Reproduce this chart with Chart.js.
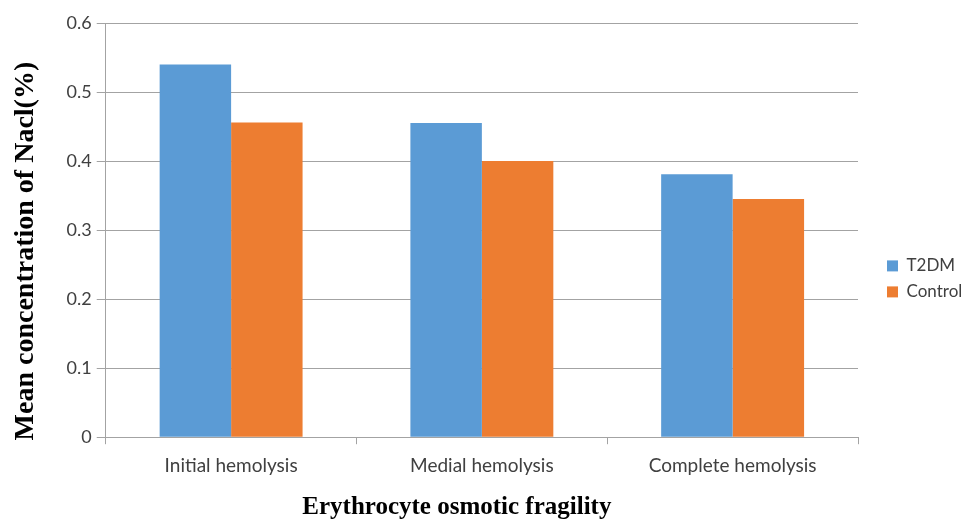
<!DOCTYPE html>
<html>
<head>
<meta charset="utf-8">
<script src="https://cdn.jsdelivr.net/npm/chart.js@4/dist/chart.umd.min.js"></script>
<style>
html,body{margin:0;padding:0;background:#fff;}
#wrap{width:968px;height:523px;}
</style>
</head>
<body>
<div id="wrap"><canvas id="c" width="968" height="523"></canvas></div>
<script>
const categories = ['Initial hemolysis', 'Medial hemolysis', 'Complete hemolysis'];
const t2dm = [0.54, 0.455, 0.381];
const control = [0.456, 0.40, 0.345];
const yTickLabels = ['0', '0.1', '0.2', '0.3', '0.4', '0.5', '0.6'];
const seriesNames = ['T2DM', 'Control'];
const xTitle = 'Erythrocyte osmotic fragility';
const yTitle = 'Mean concentration of Nacl(%)';

const gridColor = '#a3a3a3';
const textColor = '#404040';
const serif = '"Liberation Serif", "Times New Roman", serif';

new Chart(document.getElementById('c'), {
  type: 'bar',
  data: {
    labels: categories,
    datasets: [
      {label: seriesNames[0], data: t2dm, backgroundColor: '#5B9BD5', borderWidth: 0,
       categoryPercentage: 0.57, barPercentage: 1.0},
      {label: seriesNames[1], data: control, backgroundColor: '#ED7D31', borderWidth: 0,
       categoryPercentage: 0.57, barPercentage: 1.0}
    ]
  },
  options: {
    responsive: false,
    animation: false,
    devicePixelRatio: 1,
    layout: {padding: {left: 9, top: 23, right: 0, bottom: 0}},
    plugins: {
      tooltip: {enabled: false},
      legend: {
        position: 'right',
        maxWidth: 90,
        title: {display: true, text: ' ', padding: {top: 7, bottom: 0}, font: {size: 4}},
        labels: {
          font: {family: 'Lato', size: 17},
          color: textColor,
          boxWidth: 11,
          boxHeight: 11,
          padding: 9
        }
      }
    },
    scales: {
      x: {
        offset: true,
        grid: {
          offset: true,
          drawOnChartArea: false,
          drawTicks: true,
          tickLength: 7,
          color: gridColor
        },
        border: {display: true, color: gridColor, width: 1},
        ticks: {font: {family: 'Lato', size: 19}, color: textColor, padding: 10},
        title: {
          display: true,
          text: xTitle + '        ',
          font: {family: serif, size: 25, weight: 'bold'},
          color: '#000',
          padding: {top: 6, bottom: 0}
        }
      },
      y: {
        min: 0,
        max: 0.6,
        ticks: {
          stepSize: 0.1,
          font: {family: 'Lato', size: 18},
          color: textColor,
          padding: 5,
          callback: (v, i) => yTickLabels[i]
        },
        grid: {
          color: gridColor,
          drawTicks: true,
          tickLength: 9
        },
        border: {display: true, color: gridColor, width: 1},
        title: {
          display: true,
          text: yTitle + '      ',
          font: {family: serif, size: 28, weight: 'bold'},
          color: '#000',
          padding: {top: 0, bottom: 19}
        }
      },
      yGap: {
        position: 'right',
        display: true,
        grid: {display: false},
        border: {display: false},
        ticks: {display: false},
        afterFit: (s) => { s.width = 20; }
      }
    }
  }
});
</script>
</body>
</html>
